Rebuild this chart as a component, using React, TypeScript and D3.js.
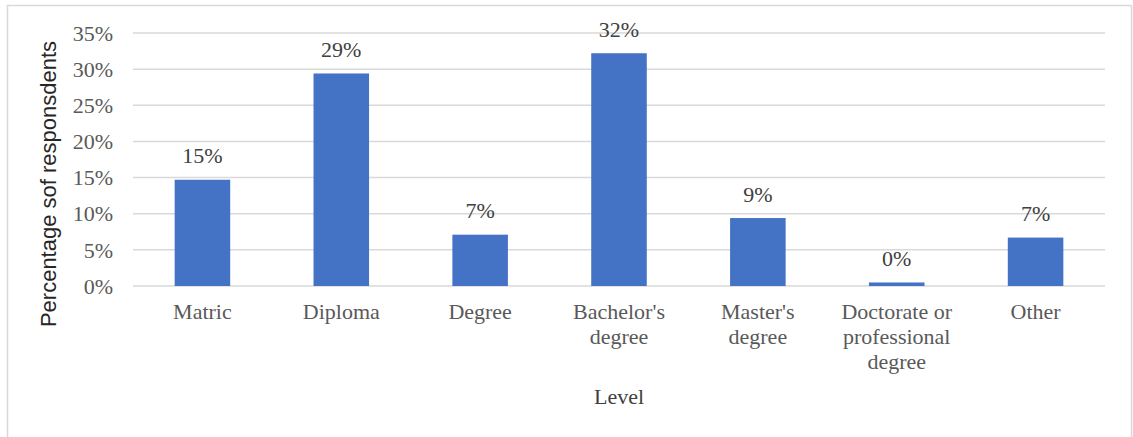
import React from "react";
import * as d3 from "d3";

// Highest education level of respondents
const categories: string[][] = [
  ["Matric"],
  ["Diploma"],
  ["Degree"],
  ["Bachelor's", "degree"],
  ["Master's", "degree"],
  ["Doctorate or", "professional", "degree"],
  ["Other"],
];
const shares: number[] = [0.147, 0.294, 0.071, 0.322, 0.094, 0.0049, 0.067];
const yTicks: number[] = [0, 0.05, 0.1, 0.15, 0.2, 0.25, 0.3, 0.35];

const W = 1133;
const H = 437;
const plot = { left: 133, right: 1105, top: 33, bottom: 286 };

const serif = "Times New Roman, Liberation Serif, DejaVu Serif, serif";
const sans = "Arial, Liberation Sans, sans-serif";
const fs = 22;

export default function App() {
  const keys = categories.map((c) => c.join(" "));
  const x = d3
    .scaleBand<string>()
    .domain(keys)
    .range([plot.left, plot.right])
    .paddingInner(0.6)
    .paddingOuter(0.3);
  const y = d3.scaleLinear().domain([0, 0.35]).range([plot.bottom, plot.top]);
  const pct = d3.format(".0%");

  return (
    <svg
      width={W}
      height={H}
      style={{ position: "absolute", left: 0, top: 0, background: "#fff" }}
    >
      <rect x={7.5} y={5.5} width={1124} height={460} fill="#fff" stroke="#d9d9d9" strokeWidth={1.5} />

      {yTicks.map((t) => (
        <g key={t}>
          <line
            x1={plot.left}
            x2={plot.right}
            y1={y(t)}
            y2={y(t)}
            stroke="#d9d9d9"
            strokeWidth={1.5}
          />
          <text
            x={plot.left - 20}
            y={y(t)}
            dy="0.35em"
            textAnchor="end"
            style={{ fontFamily: serif, fontSize: fs }}
            fill="#595959"
          >
            {pct(t)}
          </text>
        </g>
      ))}

      {shares.map((v, i) => {
        const k = keys[i];
        const bx = x(k) as number;
        const cx = bx + x.bandwidth() / 2;
        return (
          <g key={k}>
            <rect x={bx} y={y(v)} width={x.bandwidth()} height={y(0) - y(v)} fill="#4472c4" />
            <text
              x={cx}
              y={y(v) - 16.5}
              textAnchor="middle"
              style={{ fontFamily: serif, fontSize: fs }}
              fill="#404040"
            >
              {pct(v)}
            </text>
            {categories[i].map((line, j) => (
              <text
                key={j}
                x={cx}
                y={319 + j * 25}
                textAnchor="middle"
                style={{ fontFamily: serif, fontSize: fs }}
                fill="#595959"
              >
                {line}
              </text>
            ))}
          </g>
        );
      })}

      <text
        x={(plot.left + plot.right) / 2}
        y={404}
        textAnchor="middle"
        style={{ fontFamily: serif, fontSize: fs }}
        fill="#404040"
      >
        Level
      </text>

      <text
        transform={`translate(56, 184) rotate(-90)`}
        textAnchor="middle"
        style={{ fontFamily: sans, fontSize: 22 }}
        fill="#262626"
      >
        Percentage sof responsdents
      </text>
    </svg>
  );
}
